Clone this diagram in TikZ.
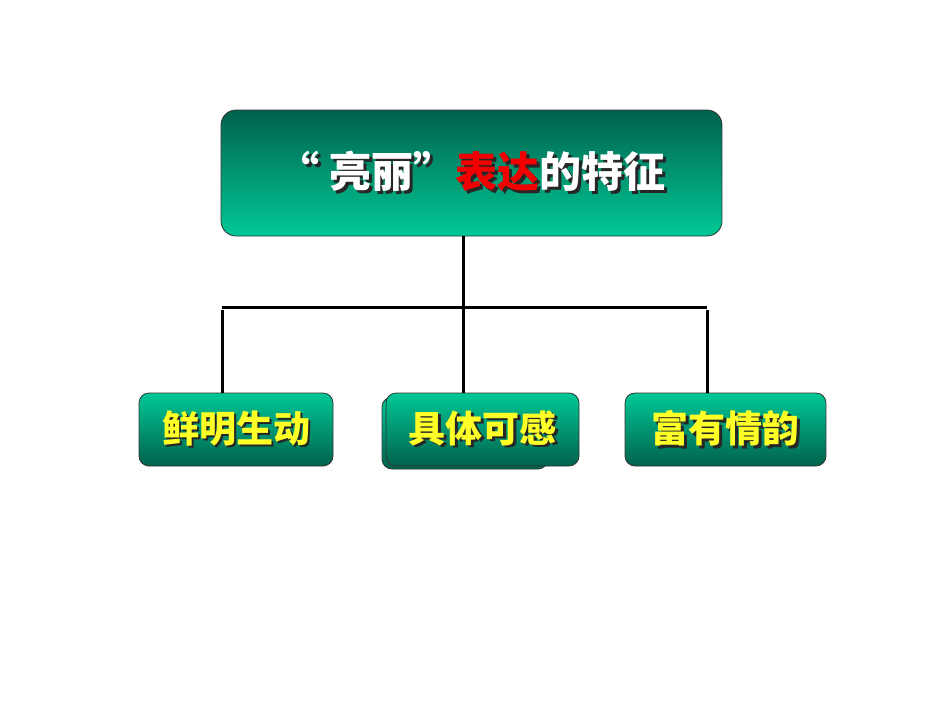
\documentclass[tikz,border=0pt]{standalone}
\usepackage{fontspec}
\newfontfamily\cjk{Noto Sans CJK SC}
\definecolor{deepgreen}{RGB}{0,98,76}
\definecolor{lightgreen}{RGB}{0,200,150}
\definecolor{titlered}{RGB}{240,0,0}
\definecolor{subyellow}{RGB}{255,255,40}
\newcommand{\shadowed}[2]{\rlap{\raisebox{-2.5pt}{\hspace{2.5pt}\color{black!85}#2}}{\color{#1}#2}}
\begin{document}
\begin{tikzpicture}[x=1pt,y=-1pt,
    topbox/.style={draw=black!80, line width=0.8pt, rounded corners=15pt,
      top color=deepgreen, bottom color=lightgreen,
      minimum width=501pt, minimum height=126pt, inner sep=0pt,
      font=\cjk\bfseries\fontsize{42}{42}\selectfont},
    subbox/.style={draw=black!80, line width=0.8pt, rounded corners=10pt,
      top color=lightgreen, bottom color=deepgreen,
      minimum height=73pt, inner sep=0pt,
      font=\cjk\bfseries\fontsize{37}{37}\selectfont},
    link/.style={line width=3pt}]
  \useasboundingbox (0,0) rectangle (950,713);
  % title box
  \node[topbox] (title) at (471.5,173)
    {\raisebox{-6pt}{\shadowed{white}{“\hspace{10pt}亮丽”}\shadowed{titlered}{表达}\shadowed{white}{的特征}}};
  % the bar and its feet
  \coordinate (barM) at (463,307);
  \coordinate (barL) at (222,307);
  \coordinate (barR) at (707,307);
  % three sub boxes
  \node[subbox, minimum width=194pt] (lively) at (236,429.5) {\raisebox{-2pt}{\shadowed{subyellow}{鲜明生动}}};
  \node[subbox, minimum width=166pt, minimum height=72pt] (concreteback) at (465,433) {};
  \node[subbox, minimum width=193pt] (concrete) at (482.5,429.5) {\raisebox{-2pt}{\shadowed{subyellow}{具体可感}}};
  \node[subbox, minimum width=201pt] (charm) at (725.5,429.5) {\raisebox{-2pt}{\shadowed{subyellow}{富有情韵}}};
  \draw[link] (title.south -| barM) -- (barM);
  \draw[link] (barL) -- (barR);
  \draw[link] ([yshift=-3pt]barL) -- (lively.north -| barL);
  \draw[link] (barM) -- (concrete.north -| barM);
  \draw[link] ([yshift=-3pt]barR) -- (charm.north -| barR);
\end{tikzpicture}
\end{document}
